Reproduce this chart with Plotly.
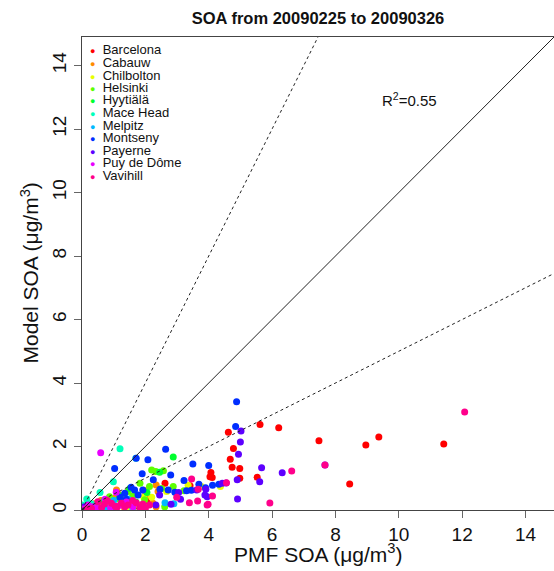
import plotly.graph_objects as go

stations = ["Barcelona", "Cabauw", "Chilbolton", "Helsinki", "Hyytiälä", "Mace Head",
            "Melpitz", "Montseny", "Payerne", "Puy de Dôme", "Vavihill"]
colors = ["#FF0000", "#FF8B00", "#E8FF00", "#5DFF00", "#00FF2E", "#00FFB9",
          "#00B9FF", "#002EFF", "#5D00FF", "#E800FF", "#FF008B"]

barcelona_x = [11.42, 9.37, 8.96, 7.48, 6.21, 8.45, 5.62, 4.62, 4.78, 4.68, 4.74, 4.98, 4.07, 4.04, 4.11, 4.98, 5.53, 2.62, 3.41, 2.05, 1.75]
barcelona_y = [2.08, 2.30, 2.05, 2.18, 2.59, 0.82, 2.69, 2.45, 1.94, 1.60, 1.35, 1.31, 1.18, 1.05, 1.02, 1.00, 1.03, 0.84, 0.76, 0.30, 0.12]
cabauw_x = [2.34, 2.40, 1.03, 1.24, 2.24, 2.34, 1.09, 0.60, 1.50, 1.80, 0.40, 2.00, 1.35, 0.85, 1.15, 1.95, 0.25]
cabauw_y = [0.79, 0.58, 0.37, 0.42, 0.21, 0.10, 0.63, 0.30, 0.30, 0.15, 0.20, 0.45, 0.05, 0.12, 0.50, 0.62, 0.08]
chilbolton_x = [4.37, 3.77, 2.67, 1.95, 0.90, 1.50, 2.20, 3.35, 1.25, 0.55]
chilbolton_y = [0.74, 0.74, 0.58, 0.40, 0.25, 0.05, 0.40, 0.78, 0.30, 0.12]
helsinki_x = [2.20, 2.33, 2.57, 1.83, 2.13, 1.45, 0.87, 1.98, 2.61, 3.22, 2.88, 2.51, 1.60, 1.15, 0.45]
helsinki_y = [1.26, 1.21, 1.24, 0.84, 0.74, 0.58, 0.42, 0.32, 0.10, 0.61, 0.74, 0.68, 0.45, 0.35, 0.15]
hyytiala_x = [2.88, 1.51, 2.45, 1.20, 0.70, 1.00, 2.05, 1.70, 0.35]
hyytiala_y = [1.67, 0.68, 1.19, 0.45, 0.30, 0.10, 0.55, 0.25, 0.06]
macehead_x = [1.20, 0.99, 0.57, 0.02, 1.70, 0.30, 1.60, 0.15]
macehead_y = [1.93, 0.89, 0.55, 0.16, 1.63, 0.20, 0.05, 0.35]
melpitz_x = [2.62, 1.45, 0.20, 0.80, 1.00, 2.90, 0.10]
melpitz_y = [0.23, 0.35, 0.10, 0.05, 0.30, 0.20, 0.02]
montseny_x = [4.88, 4.85, 2.64, 3.50, 4.00, 2.80, 3.22, 3.69, 4.12, 4.32, 3.90, 2.46, 2.72, 3.30, 2.93, 2.08, 1.71,
              1.03, 1.90, 1.66, 1.92, 1.35, 1.77, 1.40, 3.45, 1.55, 1.20, 2.25]
montseny_y = [3.41, 2.63, 1.91, 1.45, 1.40, 1.10, 0.93, 0.81, 0.78, 0.81, 0.70, 0.65, 0.63, 0.61, 0.56, 1.58, 1.63,
              1.31, 1.14, 0.63, 0.63, 0.53, 0.47, 0.34, 0.62, 0.72, 0.40, 0.95]
payerne_x = [5.02, 5.00, 4.94, 5.67, 6.32, 4.90, 5.61, 4.43, 3.88, 3.95, 4.91, 3.62, 3.91, 3.11, 2.81, 2.45, 2.33,
             0.08, 7.67, 4.55, 3.05, 1.85, 0.95, 0.40]
payerne_y = [2.49, 2.14, 1.76, 1.33, 1.17, 0.95, 0.89, 0.84, 0.47, 0.42, 0.35, 0.63, 0.65, 0.34, 0.18, 0.47, 0.16,
             0.10, 1.42, 0.85, 0.55, 0.08, 0.12, 0.05]
puy_x = [0.59, 1.08, 0.73, 0.19, 1.61, 0.35, 0.50, 1.20, 0.90, 0.05, 1.40]
puy_y = [1.80, 0.56, 0.34, 0.16, 0.10, 0.10, 0.05, 0.15, 0.08, 0.03, 0.25]
vavihill_x = [12.08, 6.62, 7.67, 5.93, 4.56, 4.12, 3.95, 3.46, 3.67, 2.99, 3.39, 3.65, 3.98, 0.50, 0.71, 0.93, 1.24,
              1.45, 1.71, 1.92, 2.13, 1.10, 0.30, 1.60, 2.00, 0.80, 1.35, 0.62, 1.05, 1.85, 0.15]
vavihill_y = [3.09, 1.23, 1.42, 0.22, 0.86, 0.44, 0.16, 0.98, 0.65, 0.40, 0.23, 0.28, 0.18, 0.26, 0.19, 0.21, 0.21,
              0.16, 0.23, 0.19, 0.16, 0.08, 0.05, 0.30, 0.05, 0.30, 0.10, 0.08, 0.12, 0.08, 0.04]

xs = [barcelona_x, cabauw_x, chilbolton_x, helsinki_x, hyytiala_x, macehead_x,
      melpitz_x, montseny_x, payerne_x, puy_x, vavihill_x]
ys = [barcelona_y, cabauw_y, chilbolton_y, helsinki_y, hyytiala_y, macehead_y,
      melpitz_y, montseny_y, payerne_y, puy_y, vavihill_y]

ref_slopes = [1.0, 2.0, 0.5]
ref_dash = ["solid", "3px,3px", "3px,3px"]
axis_max = 14.9
tick_vals = [0, 2, 4, 6, 8, 10, 12, 14]
r2_text = "R<sup>2</sup>=0.55"
r2_pos = (10.35, 12.93)
x_title = "PMF SOA (μg/m<sup>3</sup>)"
y_title = "Model SOA (μg/m<sup>3</sup>)"

FONT = "Liberation Sans, Arial, Helvetica, sans-serif"

W, H = 554, 571
ML, MR, MT, MB = 82, 0, 37, 61
plot_w = W - ML - MR
plot_h = H - MT - MB

fig = go.Figure()
for name, col, x, y in zip(stations, colors, xs, ys):
    fig.add_trace(go.Scatter(x=x, y=y, mode="markers", name=name,
                             marker=dict(color=col, size=7, line=dict(width=0))))

for s, d in zip(ref_slopes, ref_dash):
    xe = min(axis_max * 1.05, axis_max * 1.05 / s)
    fig.add_trace(go.Scatter(x=[0, xe], y=[0, xe * s], mode="lines",
                             line=dict(color="#222222", width=1, dash=d),
                             showlegend=False, hoverinfo="skip"))

axis_common = dict(range=[0, axis_max], tickvals=tick_vals, ticks="outside", ticklen=7,
                   tickcolor="#666666", tickwidth=1, showgrid=False, zeroline=False,
                   showline=True, linecolor="#444444", linewidth=1, mirror=True,
                   tickfont=dict(size=19, color="#111111", family=FONT))

fig.update_layout(
    width=W, height=H,
    margin=dict(l=ML, r=MR, t=MT, b=MB),
    plot_bgcolor="white", paper_bgcolor="white",
    showlegend=False,
    font=dict(family=FONT, color="#111111"),
    title=dict(text="<b>SOA from 20090225 to 20090326</b>", x=0.5, xref="paper",
               y=0.968, yref="container", yanchor="middle",
               font=dict(size=16.5, family=FONT, color="#111111")),
    xaxis=dict(**axis_common),
    yaxis=dict(**axis_common, tickangle=-90),
)

# axis titles
fig.add_annotation(xref="paper", yref="paper", x=0.5, y=-(553 - (H - MB)) / plot_h,
                   xanchor="center", yanchor="middle", showarrow=False, text=x_title,
                   borderpad=0, font=dict(size=21, family=FONT, color="#111111"))
fig.add_annotation(xref="paper", yref="paper", x=-(ML - 29) / plot_w, y=0.5,
                   xanchor="center", yanchor="middle", showarrow=False, text=y_title,
                   borderpad=0, textangle=-90, font=dict(size=21, family=FONT, color="#111111"))

fig.add_annotation(x=r2_pos[0], y=r2_pos[1], text=r2_text, showarrow=False,
                   xref="x", yref="y", font=dict(size=15, family=FONT, color="#111111"))

# compact legend drawn as text (top-left inside the plot)
leg_top = 50
leg_step = 12.5
for i, (name, col) in enumerate(zip(stations, colors)):
    ypix = leg_top + i * leg_step
    yp = 1 - (ypix - MT) / plot_h
    fig.add_annotation(xref="paper", yref="paper", x=0.014, y=yp, xanchor="left",
                       yanchor="middle", showarrow=False, borderpad=0,
                       text=f"<span style='color:{col};font-size:9px'>●</span>  {name}",
                       font=dict(size=13, family=FONT, color="#111111"))

fig.write_html("out.html")
